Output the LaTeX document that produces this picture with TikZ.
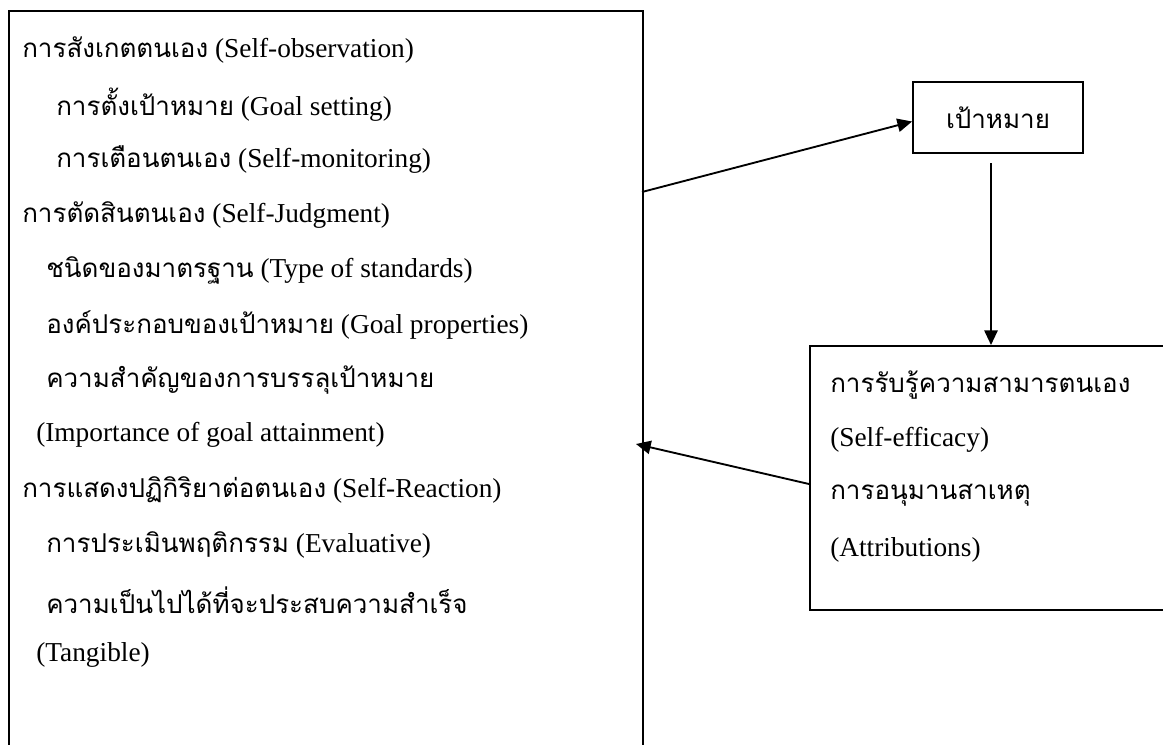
\documentclass[tikz,border=0pt]{standalone}
\usepackage{fontspec}
\setmainfont{Liberation Serif}
\newfontfamily\thaifont[Script=Thai,Scale=0.95]{Loma}
\usetikzlibrary{arrows.meta}

\newcommand{\thtxt}[1]{{\thaifont #1}}
\tikzset{
  frame/.style={draw, line width=1.4pt, inner sep=0pt},
  line/.style={anchor=west, inner sep=0pt,
    font=\fontsize{20.5}{24}\selectfont},
  link/.style={line width=1.4pt, -{Triangle[length=11pt,width=10pt]}}
}

\begin{document}
\begin{tikzpicture}[x=0.75pt, y=-0.75pt]
  \useasboundingbox (0,0) rectangle (1163,744);
  \clip (0,0) rectangle (1163,744);
  % ---------- left box ----------
  \node[frame, anchor=north west, minimum width=475.5pt, minimum height=570pt]
    (process) at (8,10) {};
  \node[line] (obs)  at (22,50)  {\thtxt{การสังเกตตนเอง} (Self-observation)};
  \node[line] (goalset) at (56,105) {\thtxt{การตั้งเป้าหมาย} (Goal setting)};
  \node[line] (monit) at (56,160) {\thtxt{การเตือนตนเอง} (Self-monitoring)};
  \node[line] (judg) at (22,215) {\thtxt{การตัดสินตนเอง} (Self-Judgment)};
  \node[line] (stand) at (46,270) {\thtxt{ชนิดของมาตรฐาน} (Type of standards)};
  \node[line] (props) at (46,325) {\thtxt{องค์ประกอบของเป้าหมาย} (Goal properties)};
  \node[line] (imp) at (46,380) {\thtxt{ความสำคัญของการบรรลุเป้าหมาย}};
  \node[line] (impen) at (36,435) {(Importance of goal attainment)};
  \node[line] (react) at (22,490) {\thtxt{การแสดงปฏิกิริยาต่อตนเอง} (Self-Reaction)};
  \node[line] (evalu) at (46,545) {\thtxt{การประเมินพฤติกรรม} (Evaluative)};
  \node[line] (tang) at (46,600) {\thtxt{ความเป็นไปได้ที่จะประสบความสำเร็จ}};
  \node[line] (tangen) at (36,655) {(Tangible)};
  % ---------- goal box ----------
  \node[frame, minimum width=127.5pt, minimum height=53.25pt,
    font=\fontsize{20.5}{24}\selectfont\thaifont] (goal) at (998,117.5) {เป้าหมาย};
  % ---------- right box ----------
  \node[frame, anchor=north west, minimum width=300pt, minimum height=198pt]
    (belief) at (809,345) {};
  \node[line] (effic) at (830,385) {\thtxt{การรับรู้ความสามารตนเอง}};
  \node[line] (efficen) at (830,440) {(Self-efficacy)};
  \node[line] (attr) at (830,495) {\thtxt{การอนุมานสาเหตุ}};
  \node[line] (attren) at (830,550) {(Attributions)};
  % ---------- arrows ----------
  \coordinate (p1) at (642,192);
  \coordinate (p2) at (991,163);
  \coordinate (p3) at (809,484);
  \coordinate (p4) at (636,444);
  \draw[link] (p1) -- ([yshift=-3pt]goal.west);
  \draw[link] (p2) -- (p2 |- belief.north);
  \draw[link] (p3) -- (p4);
\end{tikzpicture}
\end{document}
